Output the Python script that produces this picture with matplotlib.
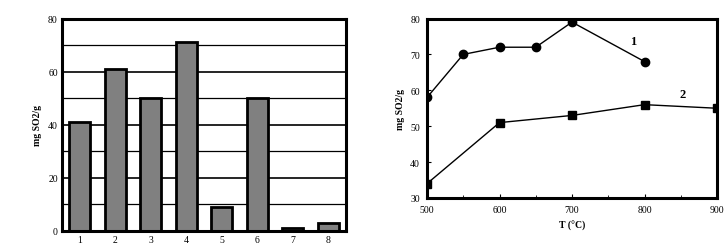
import matplotlib.pyplot as plt
from matplotlib.ticker import MultipleLocator

plt.rcParams['font.family'] = ['Liberation Serif', 'DejaVu Serif']

# Left panel: bars
samples = [1, 2, 3, 4, 5, 6, 7, 8]
capacity = [41, 61, 50, 71, 9, 50, 1, 3]

# Right panel: curves vs temperature
t1 = [500, 550, 600, 650, 700, 800]
c1 = [58, 70, 72, 72, 79, 68]
t2 = [500, 600, 700, 800, 900]
c2 = [34, 51, 53, 56, 55]

fig = plt.figure(figsize=(7.25, 2.51), dpi=100)

ax1 = fig.add_axes([62/725, 1-232/251, (346-62)/725, (232-19.5)/251])
for y in range(10, 80, 10):
    ax1.axhline(y, color='black', lw=1.2 if y % 20 == 0 else 0.9, zorder=0)
ax1.bar(samples, capacity, width=0.6, color='#808080', edgecolor='black', linewidth=2, zorder=2)
ax1.set_xlim(0.5, 8.5)
ax1.set_ylim(0, 80)
ax1.set_yticks([0, 20, 40, 60, 80])
ax1.set_xticks(samples)
ax1.set_ylabel('mg SO2/g', fontsize=7, fontweight='bold')
ax1.tick_params(labelsize=7, length=0, pad=3)
for s in ax1.spines.values():
    s.set_linewidth(2.2)

ax2 = fig.add_axes([427/725, 1-199/251, (717-427)/725, (199-19.5)/251])
ax2.plot(t1, c1, color='black', lw=1, marker='o', markersize=6)
ax2.plot(t2, c2, color='black', lw=1, marker='s', markersize=6)
ax2.text(780, 73, '1', fontsize=9, fontweight='bold')
ax2.text(848, 58, '2', fontsize=9, fontweight='bold')
ax2.set_xlim(500, 900)
ax2.set_ylim(30, 80)
ax2.set_xticks([500, 600, 700, 800, 900])
ax2.xaxis.set_minor_locator(MultipleLocator(50))
ax2.set_xlabel('T (°C)', fontsize=7, fontweight='bold')
ax2.set_ylabel('mg SO2/g', fontsize=7, fontweight='bold')
ax2.tick_params(which='both', direction='in', labelsize=7, pad=5)
ax2.tick_params(which='major', length=3)
ax2.tick_params(which='minor', length=2)
for s in ax2.spines.values():
    s.set_linewidth(2.2)

fig.savefig('out.png', dpi=100)
